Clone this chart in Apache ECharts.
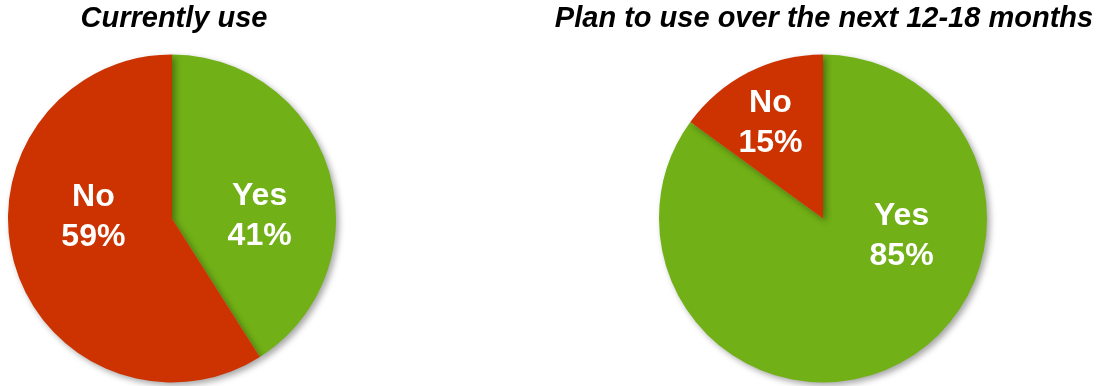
<!DOCTYPE html>
<html>
<head>
<meta charset="utf-8">
<script src="https://cdn.jsdelivr.net/npm/echarts@6/dist/echarts.min.js"></script>
<style>
  html, body { margin: 0; padding: 0; background: #fff; }
  #chart { width: 1102px; height: 386px; }
</style>
</head>
<body>
<div id="chart"></div>
<script>
const categories = ['Yes', 'No'];
const currentlyUse = [41, 59];
const planToUse = [85, 15];
const titles = ['Currently use', 'Plan to use over the next 12-18 months'];

const colors = ['#71B016', '#CC3300'];
const FONT = '"Liberation Sans", Arial, sans-serif';

// label nudges so they sit where the original put them
const leftOffsets = [[6, 21], [3, -25]];
const rightOffsets = [[40, -58], [-14, -20]];

const chart = echarts.init(document.getElementById('chart'));

function pieSeries(values, center, offsets) {
  return {
    type: 'pie',
    center: center,
    radius: 164,
    startAngle: 90,
    clockwise: true,
    animation: false,
    silent: true,
    itemStyle: {
      borderWidth: 0,
      shadowBlur: 6,
      shadowOffsetX: 3,
      shadowOffsetY: 3,
      shadowColor: 'rgba(0,0,0,0.35)'
    },
    label: {
      show: true,
      position: 'inside',
      formatter: '{b}\n{c}%',
      color: '#fff',
      fontFamily: FONT,
      fontWeight: 'bold',
      fontSize: 32,
      lineHeight: 40
    },
    labelLine: { show: false },
    data: categories.map((name, i) => ({
      name: name,
      value: values[i],
      itemStyle: { color: colors[i] },
      label: { offset: offsets[i] }
    }))
  };
}

const option = {
  backgroundColor: '#fff',
  title: [
    {
      text: titles[0],
      left: 174,
      top: 4,
      padding: 0,
      textAlign: 'center',
      textStyle: { fontFamily: FONT, fontWeight: 'bold', fontStyle: 'italic', fontSize: 29, color: '#000' }
    },
    {
      text: titles[1],
      left: 824,
      top: 4,
      padding: 0,
      textAlign: 'center',
      textStyle: { fontFamily: FONT, fontWeight: 'bold', fontStyle: 'italic', fontSize: 29, color: '#000' }
    }
  ],
  series: [
    pieSeries(currentlyUse, [172, 218.5], leftOffsets),
    pieSeries(planToUse, [823, 218.5], rightOffsets)
  ]
};

chart.setOption(option);
</script>
</body>
</html>
